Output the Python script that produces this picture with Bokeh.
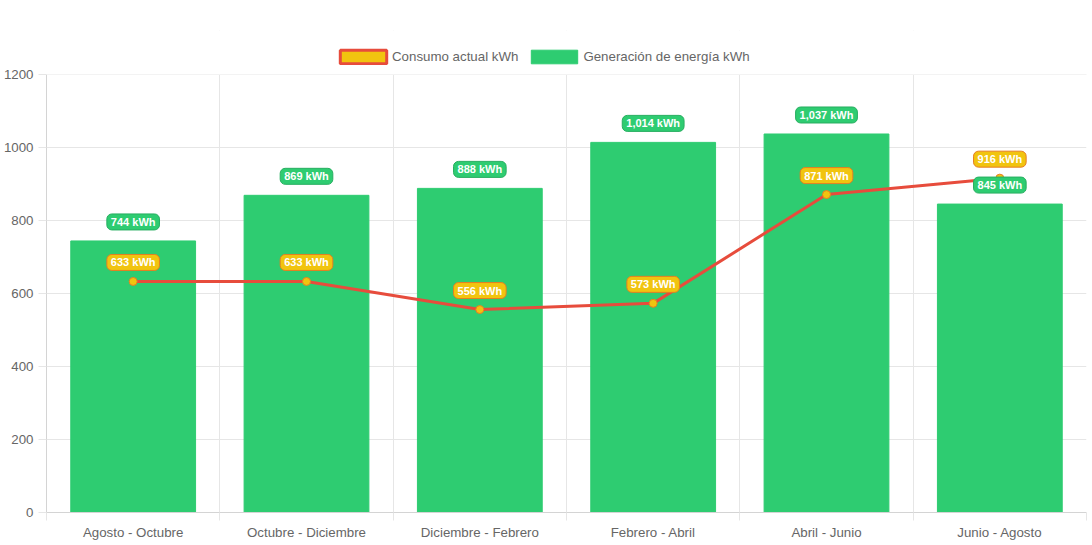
from bokeh.plotting import figure
from bokeh.models import Range1d, FixedTicker, Label, Legend, LegendItem, BoxAnnotation
from bokeh.embed import file_html
from bokeh.resources import INLINE

categories = ["Agosto - Octubre", "Octubre - Diciembre", "Diciembre - Febrero",
              "Febrero - Abril", "Abril - Junio", "Junio - Agosto"]
consumo = [633, 633, 556, 573, 871, 916]
generacion = [744, 869, 888, 1014, 1037, 845]
y_ticks = [0, 200, 400, 600, 800, 1000, 1200]

FONT = "Liberation Sans"
FS = "13.3px"
GREEN = "#2ecc71"
YELLOW = "#f1c40f"
RED = "#e74c3c"
GRID = "#e6e6e6"

W, H = 1092, 545
TOP, BOTTOM, LEFT, RIGHT = 30, 33, 46, 6
AXIS_TOP_PX = 74  # pixel row of the top gridline
y_max = y_ticks[-1]
frame_h = H - TOP - BOTTOM
y_end = y_max * frame_h / (H - BOTTOM - AXIS_TOP_PX)

x = list(range(len(categories)))
bounds = [i - 0.5 for i in range(len(categories) + 1)]

p = figure(width=W, height=H, output_backend="svg", toolbar_location=None,
           x_range=Range1d(-0.5, len(categories) - 0.5), y_range=Range1d(0, y_end),
           min_border_left=LEFT, min_border_right=RIGHT, min_border_top=TOP,
           min_border_bottom=BOTTOM)
p.outline_line_color = None
p.background_fill_color = "white"

p.xgrid.ticker = FixedTicker(ticks=bounds)
p.ygrid.ticker = FixedTicker(ticks=y_ticks)
p.grid.grid_line_color = GRID

xa = p.xaxis[0]
xa.ticker = FixedTicker(ticks=x, minor_ticks=bounds)
xa.major_label_overrides = {i: c for i, c in zip(x, categories)}
xa.major_tick_line_color = None
xa.major_tick_out = 0
xa.major_tick_in = 0
xa.minor_tick_out = 8
xa.minor_tick_in = 0
xa.minor_tick_line_color = GRID
xa.major_label_standoff = 4

ya = p.yaxis[0]
ya.ticker = FixedTicker(ticks=y_ticks)
ya.bounds = (0, y_max)
ya.major_tick_out = 8
ya.major_tick_in = 0
ya.major_tick_line_color = GRID
ya.minor_tick_line_color = None
ya.major_label_standoff = 5

for ax in (xa, ya):
    ax.axis_line_color = "#d4d4d4"
    ax.major_label_text_font = FONT
    ax.major_label_text_font_size = FS
    ax.major_label_text_color = "#666666"

bars = p.vbar(x=x, top=generacion, width=0.72, fill_color=GREEN, line_color=GREEN)
# hidden twin of the consumption series, used only for its legend swatch
legend_swatch = p.vbar(x=x, top=consumo, width=0.72, fill_color=YELLOW, line_color=RED,
                       line_width=3, visible=False)
p.line(x, consumo, line_color=RED, line_width=3)
p.scatter(x, consumo, size=8, fill_color=YELLOW, line_color="#e67e22", line_width=1)

# blank strip above the top gridline (hides grid lines above the axis)
p.add_layout(BoxAnnotation(bottom=y_max, fill_color="white", fill_alpha=1, line_color=None))


def add_labels(xs, ys, fill, border):
    for xi, yi in zip(xs, ys):
        p.add_layout(Label(x=xi, y=yi, text=f"{yi:,} kWh", y_offset=19,
                           text_align="center", text_baseline="middle", text_color="white",
                           text_font=FONT, text_font_style="bold", text_font_size="11px",
                           background_fill_color=fill, border_line_color=border,
                           border_line_width=1, border_radius=5, padding=(4, 2)))


add_labels(x, consumo, YELLOW, "#e67e22")
add_labels(x, generacion, GREEN, "#27ae60")

legend = Legend(items=[LegendItem(label="Consumo actual kWh", renderers=[legend_swatch]),
                       LegendItem(label="Generación de energía kWh", renderers=[bars])],
                orientation="horizontal", location=(288, 447),
                glyph_width=58, glyph_height=17, label_height=17, label_standoff=0,
                spacing=7, padding=0, margin=0, border_line_color=None,
                background_fill_alpha=0, inactive_fill_alpha=0,
                label_text_font=FONT, label_text_font_size=FS,
                label_text_color="#666666")
p.add_layout(legend, "center")

open("out.html", "w").write(file_html(p, INLINE))
